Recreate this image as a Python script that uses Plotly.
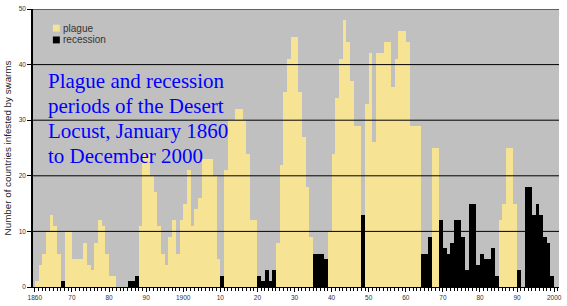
import plotly.graph_objects as go

# ---------------- data ----------------
years = list(range(1860, 2000))

plague = [
    1, 4, 6, 10, 13, 11, 6, 0, 10, 10,        # 1860-1869
    5, 5, 5, 8, 4, 3, 8, 12, 11, 6,           # 1870-1879
    2, 2, 0, 0, 0, 0, 0, 0, 11, 24,           # 1880-1889
    24, 20, 17, 11, 6, 4, 9, 12, 6, 12,       # 1890-1899
    15, 21, 11, 14, 16, 23, 23, 23, 20, 5,    # 1900-1909
    0, 21, 30, 30, 32, 32, 30, 24, 12, 12,    # 1910-1919
    0, 0, 0, 0, 0, 8, 22, 35, 41, 45,         # 1920-1929
    45, 35, 27, 18, 9, 0, 0, 0, 0, 10,        # 1930-1939
    24, 34, 41, 48, 44, 37, 29, 29, 0, 33,    # 1940-1949
    42, 26, 42, 42, 44, 44, 36, 41, 46, 46,   # 1950-1959
    44, 29, 29, 29, 0, 0, 0, 25, 25, 0,       # 1960-1969
    0, 0, 0, 0, 0, 0, 0, 0, 0, 0,             # 1970-1979
    0, 0, 0, 0, 0, 12, 15, 25, 25, 15,        # 1980-1989
    0, 0, 0, 0, 0, 0, 0, 0, 0, 0,             # 1990-1999
]

recession = [
    0, 0, 0, 0, 0, 0, 0, 1, 0, 0,             # 1860-1869
    0, 0, 0, 0, 0, 0, 0, 0, 0, 0,             # 1870-1879
    0, 0, 0, 0, 0, 1, 1, 2, 0, 0,             # 1880-1889
    0, 0, 0, 0, 0, 0, 0, 0, 0, 0,             # 1890-1899
    0, 0, 0, 0, 0, 0, 0, 0, 0, 0,             # 1900-1909
    2, 0, 0, 0, 0, 0, 0, 0, 0, 0,             # 1910-1919
    2, 1, 3, 1, 3, 0, 0, 0, 0, 0,             # 1920-1929
    0, 0, 0, 0, 0, 6, 6, 6, 5, 0,             # 1930-1939
    0, 0, 0, 0, 0, 0, 0, 0, 13, 0,            # 1940-1949
    0, 0, 0, 0, 0, 0, 0, 0, 0, 0,             # 1950-1959
    0, 0, 0, 0, 6, 6, 9, 0, 0, 12,            # 1960-1969
    7, 6, 8, 12, 12, 9, 3, 15, 15, 4,         # 1970-1979
    6, 5, 5, 7, 2, 0, 0, 0, 0, 0,             # 1980-1989
    3, 0, 18, 18, 13, 15, 13, 9, 8, 2,        # 1990-1999
]

x_tick_years = [1860, 1870, 1880, 1890, 1900, 1910, 1920, 1930,
                1940, 1950, 1960, 1970, 1980, 1990, 2000]
x_tick_labels = ["1860", "70", "80", "90", "1900", "10", "20", "30",
                 "40", "50", "60", "70", "80", "90", "2000"]
y_ticks = [0, 10, 20, 30, 40, 50]

series_names = ["plague", "recession"]
title_lines = ["Plague and recession", "periods of the Desert",
               "Locust, January 1860", "to December 2000"]

# ---------------- style ----------------
YELLOW = "#F7E394"
BLACK = "#000000"
GRAY = "#C0C0C0"
colors = [YELLOW, BLACK]
SANS = "Arial, Liberation Sans, sans-serif"
TICK_FONT = dict(family=SANS, size=6.5, color="#333333")

W, H = 567, 306
ML, MR, MT, MB = 33, 5, 5, 18
PW, PH = W - ML - MR, H - MT - MB


def px_x(px):
    return (px - ML) / PW


def px_y(py):
    return (H - MB - py) / PH


fig = go.Figure()
for name, vals, col in zip(series_names, [plague, recession], colors):
    fig.add_trace(go.Bar(x=years, y=vals, name=name, width=1, offset=0,
                         marker=dict(color=col, line=dict(width=0))))

# horizontal grid lines drawn above the bars
for v in y_ticks[1:]:
    fig.add_shape(type="line", xref="paper", x0=0, x1=1, yref="y", y0=v, y1=v,
                  line=dict(color=BLACK, width=1), layer="above")

# key (small squares with labels)
for i, (name, col) in enumerate(zip(series_names, colors)):
    top = 21 + 12 * i
    fig.add_shape(type="rect", xref="paper", yref="paper",
                  x0=px_x(53), x1=px_x(60), y0=px_y(top + 7), y1=px_y(top),
                  fillcolor=col, line=dict(width=0), layer="above")
    fig.add_annotation(text=name, xref="paper", yref="paper",
                       x=px_x(61), y=px_y(top + 3.5), xanchor="left", yanchor="middle",
                       showarrow=False, font=dict(family=SANS, size=10, color="#333333"))

# blue title block
for i, line in enumerate(title_lines):
    fig.add_annotation(
        text=line, xref="paper", yref="paper",
        x=px_x(46), y=px_y(78 + 25.7 * i),
        xanchor="left", yanchor="middle", align="left", showarrow=False,
        font=dict(family="Liberation Serif, Times New Roman, serif", size=21, color="#0000FF"),
    )

fig.update_layout(
    width=W, height=H,
    margin=dict(l=ML, r=MR, t=MT, b=MB),
    paper_bgcolor="white", plot_bgcolor=GRAY,
    barmode="overlay", bargap=0,
    showlegend=False,
    xaxis=dict(range=[1859.5, 2001.3], tickmode="array", tickvals=x_tick_years,
               ticktext=x_tick_labels, ticks="outside", ticklen=4, tickcolor=BLACK,
               tickfont=TICK_FONT, showgrid=False, zeroline=False,
               showline=True, linecolor=BLACK, linewidth=1,
               minor=dict(tickmode="linear", tick0=1860, dtick=1, ticks="outside",
                          ticklen=3, tickcolor=BLACK, showgrid=False)),
    yaxis=dict(range=[0, 50], tickmode="array", tickvals=y_ticks, ticks="outside",
               ticklen=4, tickcolor=BLACK, tickfont=TICK_FONT, showgrid=False,
               zeroline=False, showline=True, linecolor=BLACK, linewidth=1.5,
               title=dict(text="Number of countries infested by swarms", standoff=5,
                          font=dict(family=SANS, size=9.8, color="#222222"))),
)

fig.write_html("out.html")
